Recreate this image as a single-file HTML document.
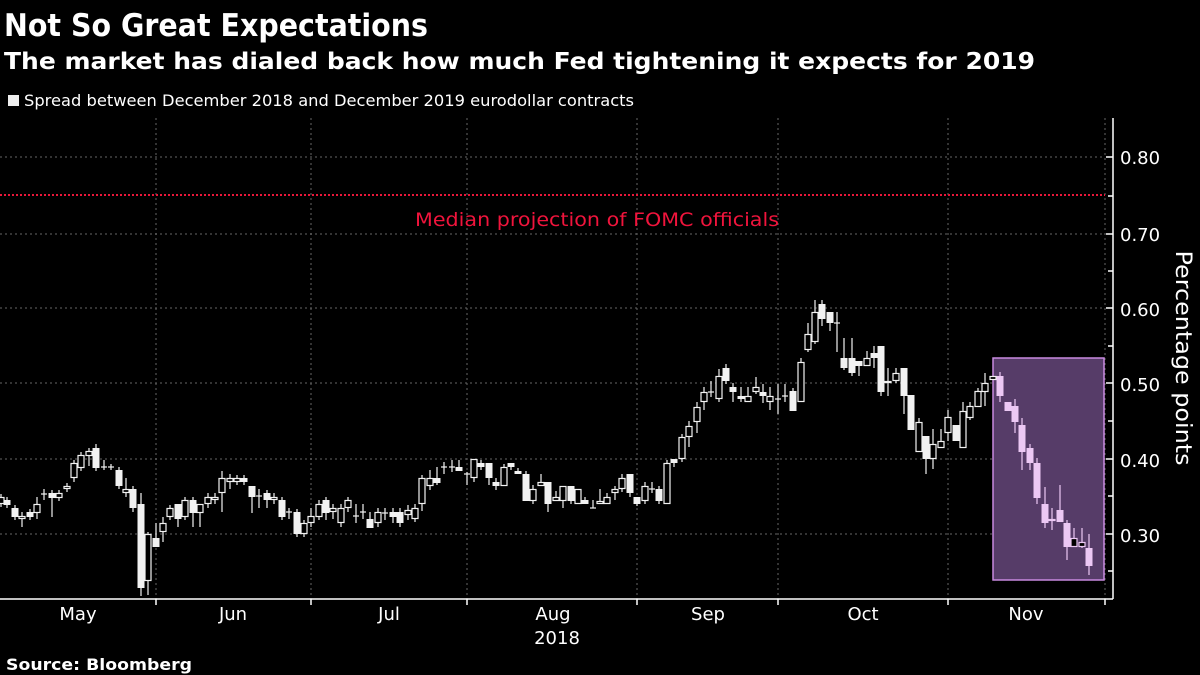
<!DOCTYPE html><html><head><meta charset="utf-8"><style>body{margin:0;background:#000}svg{display:block}text{font-family:"DejaVu Sans","Liberation Sans",sans-serif;fill:#fff}</style></head><body>
<svg id="s" width="1200" height="675" xmlns="http://www.w3.org/2000/svg">
<rect width="1200" height="675" fill="#000"/>
<text x="4" y="36" font-size="31" font-weight="bold" textLength="424" lengthAdjust="spacingAndGlyphs">Not So Great Expectations</text>
<text x="4" y="69" font-size="23" font-weight="bold" textLength="1031" lengthAdjust="spacingAndGlyphs">The market has dialed back how much Fed tightening it expects for 2019</text>
<rect x="8" y="95" width="11" height="11" fill="#eee"/>
<text x="24" y="106" font-size="16" fill="#eee" textLength="610" lengthAdjust="spacingAndGlyphs">Spread between December 2018 and December 2019 eurodollar contracts</text>
<g id="grid" stroke="#666" stroke-width="1" stroke-dasharray="2,3"></g>
<line x1="0" y1="195" x2="1105" y2="195" stroke="#e8173a" stroke-width="2" stroke-dasharray="2,2"/>
<text x="597" y="226" font-size="19" fill="#f0143c" style="fill:#f0143c" text-anchor="middle" textLength="364" lengthAdjust="spacingAndGlyphs">Median projection of FOMC officials</text>
<rect x="993" y="358" width="111" height="222" fill="#563c68" stroke="#c88ae0" stroke-width="1.5"/>
<g id="c"></g>
<line x1="0" y1="599" x2="1113" y2="599" stroke="#fff" stroke-width="1.5"/>
<line x1="1113" y1="118" x2="1113" y2="599" stroke="#fff" stroke-width="1.5"/>
<g id="t" stroke="#fff" stroke-width="1.5"></g>
<g font-size="18">
<text x="1120" y="164">0.80</text><text x="1120" y="241">0.70</text><text x="1120" y="316">0.60</text><text x="1120" y="391">0.50</text><text x="1120" y="467">0.40</text><text x="1120" y="542">0.30</text>
<text x="78" y="620" text-anchor="middle">May</text><text x="233" y="620" text-anchor="middle">Jun</text><text x="389" y="620" text-anchor="middle">Jul</text><text x="553" y="620" text-anchor="middle">Aug</text><text x="557" y="644" text-anchor="middle">2018</text><text x="708" y="620" text-anchor="middle">Sep</text><text x="863" y="620" text-anchor="middle">Oct</text><text x="1026" y="620" text-anchor="middle">Nov</text>
</g>
<text transform="translate(1176,358) rotate(90)" font-size="22" text-anchor="middle" textLength="215" lengthAdjust="spacingAndGlyphs">Percentage points</text>
<text x="6" y="670" font-size="16" font-weight="bold" textLength="186" lengthAdjust="spacingAndGlyphs">Source: Bloomberg</text>
</svg>
<script>
var N="http://www.w3.org/2000/svg";
function el(p,t,a){var e=document.createElementNS(N,t);for(var k in a)e.setAttribute(k,a[k]);document.getElementById(p).appendChild(e);}
[157,234,308,383,459,534].forEach(function(y){el("grid","line",{x1:0,y1:y,x2:1105,y2:y});});
[156,311,467,637,778,948,1105].forEach(function(x){el("grid","line",{x1:x,y1:118,x2:x,y2:599});el("t","line",{x1:x,y1:599,x2:x,y2:605});});
[157,234,308,383,459,534].forEach(function(y){el("t","line",{x1:1106,y1:y,x2:1113,y2:y});});
[196,271,346,421,496,571].forEach(function(y){el("t","line",{x1:1108,y1:y,x2:1113,y2:y});});
var d=[[1,497,504,0],[7,500,505,1],[15,508,517,1],[22,516,519,0,512,527],[30,512,517,1],[37,504,513,0,497,519],[44,494,494,0,489,500],[52,493,498,1,490,517],[59,493,498,0],[67,486,489,0],[74,463,478,0,460,482],[81,455,468,0],[89,451,456,0,448,466],[96,448,468,1,444,471],[104,467,467,0,460,470],[111,467,467,0,464,470],[119,470,486,1],[126,489,493,0,478,497],[133,489,508,1,486,512],[141,504,588,1,493,596],[148,534,581,0,532,595],[156,538,547,1,523,547],[163,523,532,0,517,542],[170,508,517,0],[178,504,519,1,504,527],[185,500,517,0],[193,500,513,1,497,527],[200,504,513,0,504,527],[208,497,504,0,493,508],[215,497,500,0,493,504],[222,478,493,0,471,512],[230,478,482,0,474,489],[237,478,482,0],[244,478,482,1],[252,486,497,1,486,513],[259,496,496,0,489,508],[267,493,500,1,490,508],[274,497,500,0,493,504],[282,500,517,1],[289,512,512,0,508,519],[297,512,534,1],[304,523,534,0],[311,516,523,0,508,527],[319,504,517,0,500,520],[326,500,513,1,497,520],[333,508,512,0,504,519],[341,508,523,0,504,527],[348,500,508,0,497,512],[356,516,516,0,504,523],[363,512,512,0,504,519],[370,519,528,1,512,528],[378,512,523,0,508,527],[385,513,513,0,508,520],[393,512,517,1,508,523],[400,512,523,1,508,527],[408,510,515,0,505,520],[415,508,519,0,504,522],[422,478,504,0,475,511],[430,478,486,0,470,490],[437,478,483,1,467,485],[444,467,467,0,462,474],[452,467,467,0,460,472],[459,467,471,1,460,471],[467,474,474,0,472,485],[474,459,478,0,459,482],[481,463,467,1,460,470],[489,463,478,1,463,485],[496,482,486,1,478,490],[504,467,486,0,464,486],[511,463,467,1,463,470],[518,471,474,1,468,474],[526,474,501,1,471,501],[533,489,501,0,485,504],[541,482,486,0,474,486],[548,482,504,1,482,512],[556,497,501,0,491,501],[563,486,501,0,486,508],[571,486,501,1,486,504],[578,489,504,0,489,504],[585,500,504,1,497,504],[593,508,508,0,500,508],[600,501,504,0,489,504],[607,497,504,0,493,504],[615,489,493,0,486,500],[622,478,489,0,474,492],[630,474,493,1,474,497],[637,497,504,1,497,506],[645,486,501,0,482,504],[652,489,489,0,482,493],[659,489,501,1,486,504],[667,463,504,0,460,504],[674,459,463,1,459,467],[682,437,459,0,434,462],[689,426,437,0,421,447],[697,407,422,0,402,433],[704,392,402,0,387,410],[711,392,392,0,381,397],[719,376,399,0,369,402],[726,368,381,1,364,384],[733,387,392,1,383,402],[741,396,399,1,387,402],[748,396,402,0,387,402],[756,387,392,0,377,394],[763,392,396,1,384,403],[770,396,402,0,387,410],[778,399,399,0,384,414],[785,396,396,0,384,402],[793,391,411,1,388,411],[801,362,402,0,358,402],[808,334,350,0,323,352],[815,312,342,0,300,344],[822,304,319,1,300,326],[830,312,323,1,312,331],[837,323,323,0,312,352],[844,358,368,1,338,370],[852,358,373,1,338,376],[859,361,366,1,361,376],[867,358,366,0,351,366],[874,353,358,1,346,368],[881,346,392,1,346,396],[888,381,383,0,368,396],[896,373,381,0,368,383],[904,368,396,1,368,414],[911,395,430,1,395,430],[919,422,452,0,418,452],[926,436,459,1,436,474],[933,444,459,0,429,469],[941,441,448,0,429,448],[948,417,433,0,410,441],[956,425,441,1,425,441],[963,411,448,0,402,448],[970,406,418,0,402,420],[978,391,407,0,388,407],[985,383,392,0,373,406],[993,376,380,0,376,380],[1000,376,396,2,372,402],[1008,402,411,2,402,411],[1015,406,422,2,399,433],[1022,425,452,2,418,470],[1030,448,463,2,444,470],[1037,463,498,2,458,504],[1045,504,523,2,487,528],[1052,519,521,3,508,530],[1060,510,522,2,485,522],[1067,523,547,2,520,560],[1074,538,547,3,528,547],[1082,542,547,3,528,548],[1089,548,566,2,534,575]];
d.forEach(function(c){var x=c[0],t=c[1],b=c[2],f=c[3];var wt=c[4]||t-3,wb=c[5]||b+3;
var col=f>=2?"#ecc8f4":"#f2f2f2";
el("c","line",{x1:x,y1:wt,x2:x,y2:wb,stroke:col,"stroke-width":1.2});
if(b-t<1){el("c","line",{x1:x-3,y1:t,x2:x+3,y2:t,stroke:col,"stroke-width":1.2});return;}
if(f==1||f==2)el("c","rect",{x:x-3.5,y:t,width:7,height:b-t,fill:col});
else el("c","rect",{x:x-3,y:t+.5,width:6,height:b-t-1,fill:"#000",stroke:col,"stroke-width":1.2});});
</script>
</body></html>
